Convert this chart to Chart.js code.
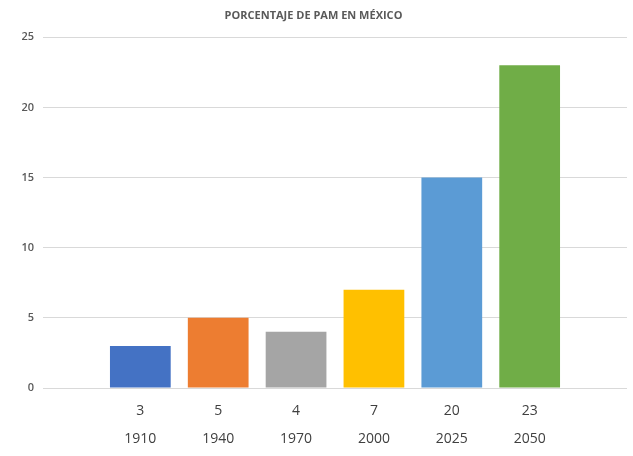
<!DOCTYPE html>
<html lang="es">
<head>
    <meta charset="UTF-8">
    <title>Porcentaje de PAM en México</title>
    <script src="https://cdn.jsdelivr.net/npm/chart.js@4.4.1/dist/chart.umd.min.js"></script>
    <style>
        html, body { margin: 0; padding: 0; background: #fff; }
        .chart-box { width: 633px; height: 456px; }
    </style>
</head>
<body>
    <div class="chart-box">
        <canvas id="pamChart"></canvas>
    </div>
    <script>
    // Datos del gráfico
    const years = ['1910', '1940', '1970', '2000', '2025', '2050'];
    const shownLabels = ['3', '5', '4', '7', '20', '23'];
    const percentages = [3, 5, 4, 7, 15, 23];
    const barColors = ['#4472C4', '#ED7D31', '#A5A5A5', '#FFC000', '#5B9BD5', '#70AD47'];
    const yTicks = [0, 5, 10, 15, 20, 25];

    document.addEventListener('DOMContentLoaded', function() {
        const ctx = document.getElementById('pamChart').getContext('2d');
        new Chart(ctx, {
            type: 'bar',
            data: {
                datasets: [{
                    label: 'PAM (%)',
                    data: percentages.map((v, i) => ({ x: i, y: v })),
                    backgroundColor: barColors,
                    borderWidth: 0,
                    barPercentage: 0.78,
                    categoryPercentage: 1
                }]
            },
            options: {
                responsive: true,
                maintainAspectRatio: false,
                animation: false,
                layout: { padding: { left: 0, right: 6, top: 0, bottom: 3 } },
                plugins: {
                    legend: { display: false },
                    tooltip: { enabled: false },
                    title: {
                        display: true,
                        text: 'PORCENTAJE DE PAM EN MÉXICO',
                        color: '#595959',
                        font: { family: '"Open Sans", sans-serif', size: 11, weight: 'bold' },
                        padding: { top: 9, bottom: 15 }
                    }
                },
                scales: {
                    x: {
                        type: 'linear',
                        bounds: 'data',
                        offset: false,
                        min: -1.25,
                        max: years.length - 1 + 1.25,
                        afterBuildTicks: function(scale) {
                            scale.ticks = years.map((_, i) => ({ value: i }));
                        },
                        afterFit: function(scale) { scale.height = 65; },
                        grid: { display: false, drawTicks: false },
                        border: { display: false },
                        ticks: {
                            padding: 9,
                            color: '#404040',
                            maxRotation: 0,
                            autoSkip: false,
                            font: { family: '"Open Sans", sans-serif', size: 14, lineHeight: 2 },
                            callback: function(value) {
                                const i = Math.round(value);
                                return [shownLabels[i], years[i]];
                            }
                        }
                    },
                    y: {
                        min: 0,
                        max: 25,
                        afterBuildTicks: function(scale) {
                            scale.ticks = yTicks.map(v => ({ value: v }));
                        },
                        afterFit: function(scale) { scale.width = 43; },
                        grid: { color: '#D9D9D9', drawTicks: false },
                        border: { display: false },
                        ticks: {
                            padding: 9,
                            color: '#595959',
                            font: { family: '"Open Sans", sans-serif', size: 11, weight: '600' }
                        }
                    }
                }
            }
        });
    });
    </script>
</body>
</html>
